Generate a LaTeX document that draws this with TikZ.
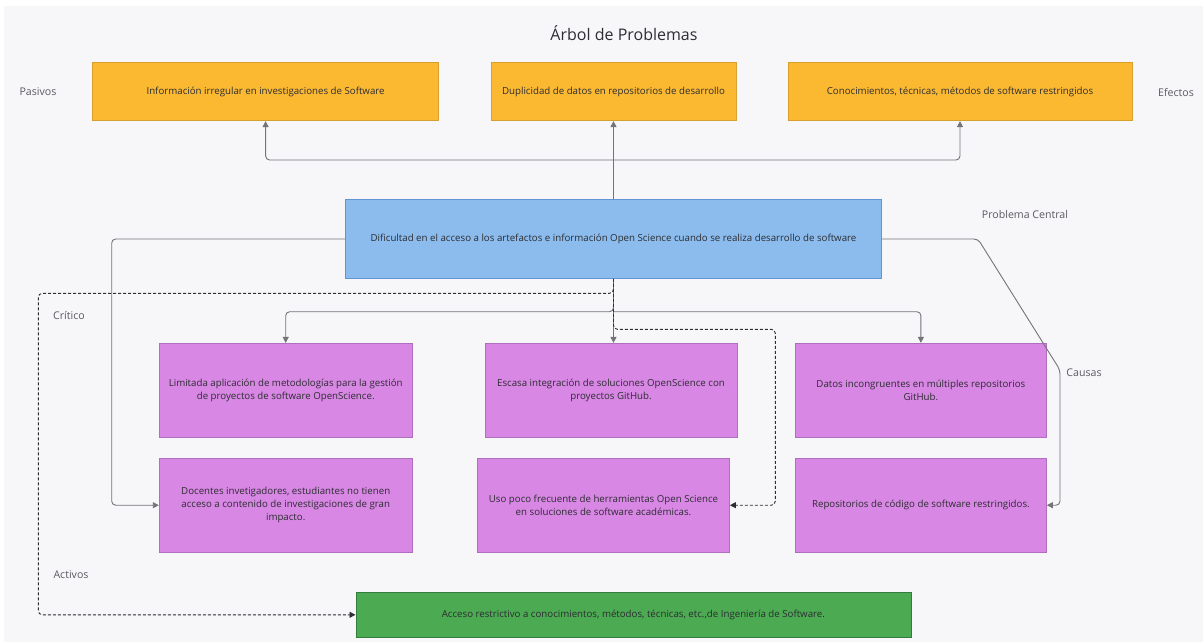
\documentclass[tikz,border=0pt]{standalone}
\usepackage{fontspec}
\setmainfont{Open Sans}
\usetikzlibrary{arrows.meta}

\definecolor{fondo}{RGB}{247,247,250}
\definecolor{naranja}{RGB}{251,185,50}
\definecolor{bordeNaranja}{RGB}{215,160,45}
\definecolor{azul}{RGB}{139,188,237}
\definecolor{bordeAzul}{RGB}{95,150,210}
\definecolor{morado}{RGB}{216,135,228}
\definecolor{bordeMorado}{RGB}{175,110,190}
\definecolor{verde}{RGB}{76,170,82}
\definecolor{bordeVerde}{RGB}{50,125,60}
\definecolor{gris}{RGB}{115,115,120}
\definecolor{texto}{RGB}{45,45,50}
\definecolor{etiqueta}{RGB}{90,90,95}

\begin{document}
\begin{tikzpicture}[x=1pt,y=-1pt,
    caja/.style={draw, line width=0.8pt, inner sep=2pt, align=center, text=texto, font=\fontsize{9.7}{13}\selectfont},
    efecto/.style={caja, fill=naranja, draw=bordeNaranja, minimum height=58pt},
    problema/.style={caja, fill=azul, draw=bordeAzul, minimum height=79pt},
    causa/.style={caja, fill=morado, draw=bordeMorado, minimum height=94pt},
    activo/.style={caja, fill=verde, draw=bordeVerde, minimum height=45pt},
    rotulo/.style={text=etiqueta, font=\fontsize{10.6}{12}\selectfont},
    linea/.style={draw=gris, line width=0.9pt, rounded corners=4pt},
    flecha/.style={linea, -{Triangle[length=6pt,width=6pt]}},
    punteada/.style={flecha, draw=texto, densely dashed}
  ]
    % Fondo
    \useasboundingbox (0,0) rectangle (1203,642);
    \fill[white] (0,0) rectangle (1203,642);
    \fill[fondo] (4,6) rectangle (1203,642);
    % Titulo y rotulos
    \node[text=texto, font=\fontsize{16}{19}\selectfont] (titulo) at (624,33) {Árbol de Problemas};
    \node[rotulo] (pasivos) at (38,92) {Pasivos};
    \node[rotulo] (efectos) at (1176,92) {Efectos};
    \node[rotulo] (central-rotulo) at (1025,215) {Problema Central};
    \node[rotulo] (critico) at (69,315) {Crítico};
    \node[rotulo] (causas) at (1084,373) {Causas};
    \node[rotulo] (activos) at (71,575) {Activos};
    % Efectos
    \node[efecto, minimum width=346pt] (efecto1) at (265.6,91.7) {Información irregular en investigaciones de Software};
    \node[efecto, minimum width=245pt] (efecto2) at (613.5,91.7) {Duplicidad de datos en repositorios de desarrollo};
    \node[efecto, minimum width=344pt] (efecto3) at (960,91.7) {Conocimientos, técnicas, métodos de software restringidos};
    % Problema central
    \node[problema, minimum width=536pt] (central) at (613.5,239) {Dificultad en el acceso a los artefactos e información Open Science cuando se realiza desarrollo de software};
    % Causas
    \node[causa, minimum width=253pt] (causa1) at (285.7,390.3) {Limitada aplicación de metodologías para la gestión\\de proyectos de software OpenScience.};
    \node[causa, minimum width=252pt] (causa2) at (611,390.3) {Escasa integración de soluciones OpenScience con\\proyectos GitHub.};
    \node[causa, minimum width=251pt] (causa3) at (920.9,390.3) {Datos incongruentes en múltiples repositorios\\GitHub.};
    \node[causa, minimum width=253pt] (causa4) at (285.7,505.2) {Docentes invetigadores, estudiantes no tienen\\acceso a contenido de investigaciones de gran\\impacto.};
    \node[causa, minimum width=252pt] (causa5) at (603.5,505.2) {Uso poco frecuente de herramientas Open Science\\en soluciones de software académicas.};
    \node[causa, minimum width=251pt] (causa6) at (920.9,505.2) {Repositorios de código de software restringidos.};
    % Activo
    \node[activo, minimum width=555pt] (activo) at (633.4,614.8) {Acceso restrictivo a conocimientos, métodos, técnicas, etc.,de Ingeniería de Software.};
    % Coordinate
    \coordinate (ramaSup) at (613.5,160);
    \coordinate (ramaInf) at (613.5,311.7);
    \coordinate (izq) at (111.7,239);
    \coordinate (der1) at (978,239);
    \coordinate (der2) at (1060,370);
    \coordinate (punteadaIzq) at (38.3,293.3);
    \coordinate (punteadaDer) at (775.3,329.3);
    % Linee
    \draw[flecha] (central.north) -- (efecto2.south);
    \draw[flecha] (ramaSup) -| (efecto1.south);
    \draw[flecha] (ramaSup) -| (efecto3.south);
    \draw[flecha] (central.south) -- (ramaInf) -| (causa1.north);
    \draw[flecha] (ramaInf) -| (causa3.north);
    \draw[flecha] (ramaInf) -- (ramaInf |- causa2.north);
    \draw[flecha] (central.west) -- (izq) |- (causa4.west);
    \draw[flecha] (central.east) -- (der1) -- (der2) |- (causa6.east);
    \draw[punteada] (central.south) |- (punteadaIzq) |- (activo.west);
    \draw[punteada] (central.south) |- (punteadaDer) |- (causa5.east);
\end{tikzpicture}
\end{document}
